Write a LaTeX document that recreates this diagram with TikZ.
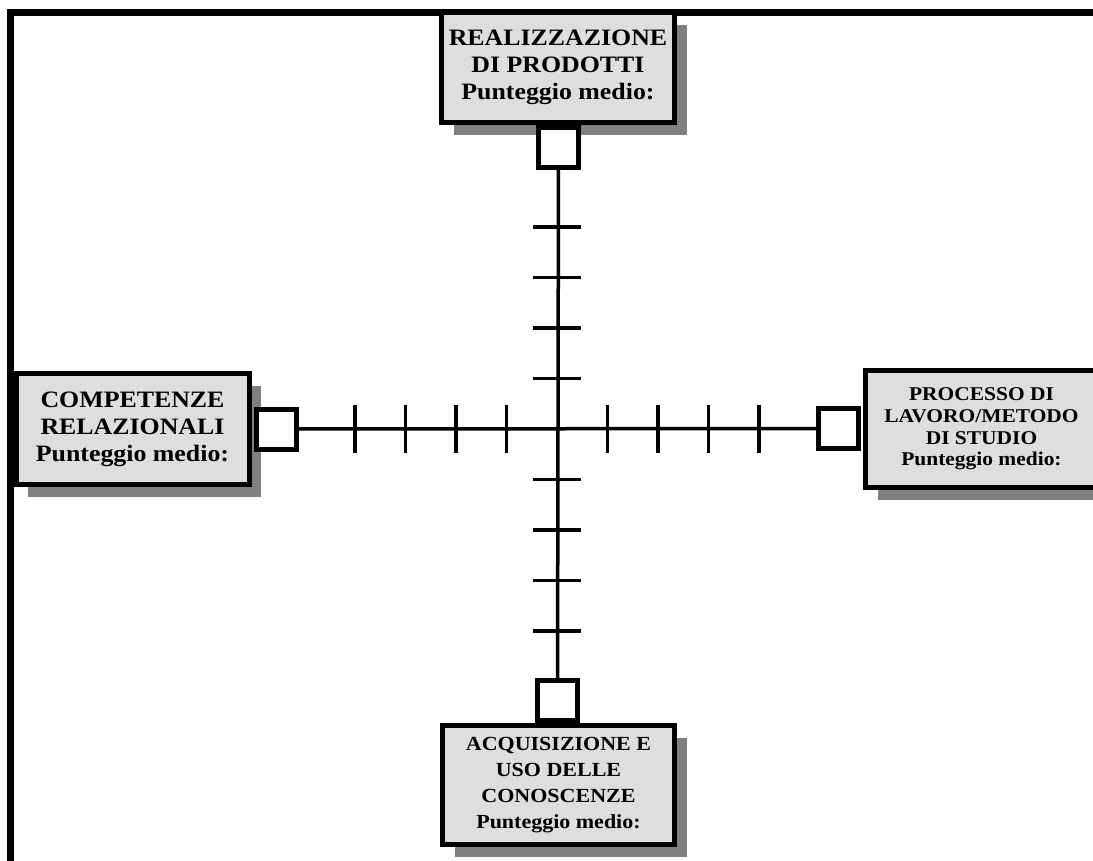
\documentclass[tikz,border=0pt]{standalone}
\usepackage{fontspec}
\newfontfamily\boxfont{Liberation Serif}[FakeStretch=1.1]
\usetikzlibrary{shadows}
\begin{document}
\begin{tikzpicture}[x=1pt,y=-1pt,
    scorebox/.style={draw,line width=5pt,fill=black!13,inner sep=0pt,align=center,
      minimum width=233pt,
      font=\boxfont\bfseries\fontsize{23.5}{27}\selectfont,
      drop shadow={shadow xshift=12pt,shadow yshift=-12pt,fill=black!50,opacity=1}},
    valuebox/.style={draw,line width=5pt,fill=white,minimum size=40pt,inner sep=0pt},
    axis/.style={line width=3.5pt}]
      \useasboundingbox (0,0) rectangle (1093,860);
      \def\cx{557};
      \def\cy{429};
      \def\gap{50.5};
      \def\tk{24};
      % outer frame
      \draw[line width=7pt] (10.5,880) -- (10.5,12.5) -- (1110,12.5);
      % the four boxes
      \node[scorebox,minimum height=110pt] (prodotti) at (558,67.5)
        {REALIZZAZIONE\\DI PRODOTTI\\Punteggio medio:};
      \node[scorebox,minimum height=111pt] (relazioni) at (132.5,429)
        {COMPETENZE\\RELAZIONALI\\Punteggio medio:};
      \node[scorebox,minimum height=117pt,minimum width=232pt,
        font=\boxfont\bfseries\fontsize{19.5}{21.7}\selectfont] (metodo) at (981.5,429)
        {PROCESSO DI\\LAVORO/METODO\\DI STUDIO\\Punteggio medio:};
      \node[scorebox,minimum height=119pt,minimum width=232pt,
        font=\boxfont\bfseries\fontsize{20}{26}\selectfont] (conoscenze) at (558.5,785)
        {ACQUISIZIONE E\\USO DELLE\\CONOSCENZE\\Punteggio medio:};
      % score squares
      \node[valuebox] (vP) at (558.5,147.5) {};
      \node[valuebox] (vR) at (276.5,429) {};
      \node[valuebox] (vM) at (838.5,428.5) {};
      \node[valuebox] (vC) at (557.5,700.5) {};
      % axes
      \draw[axis] (vP) -- (vC);
      \draw[axis] (vR) -- (vM);
      \foreach \d in {1,...,4} {
        \draw[axis] (\cx-\d*\gap,\cy-\tk) -- (\cx-\d*\gap,\cy+\tk);
        \draw[axis] (\cx+\d*\gap,\cy-\tk) -- (\cx+\d*\gap,\cy+\tk);
        \draw[axis] (\cx-\tk,\cy-\d*\gap) -- (\cx+\tk,\cy-\d*\gap);
        \draw[axis] (\cx-\tk,\cy+\d*\gap) -- (\cx+\tk,\cy+\d*\gap);
      }
\end{tikzpicture}
\end{document}
